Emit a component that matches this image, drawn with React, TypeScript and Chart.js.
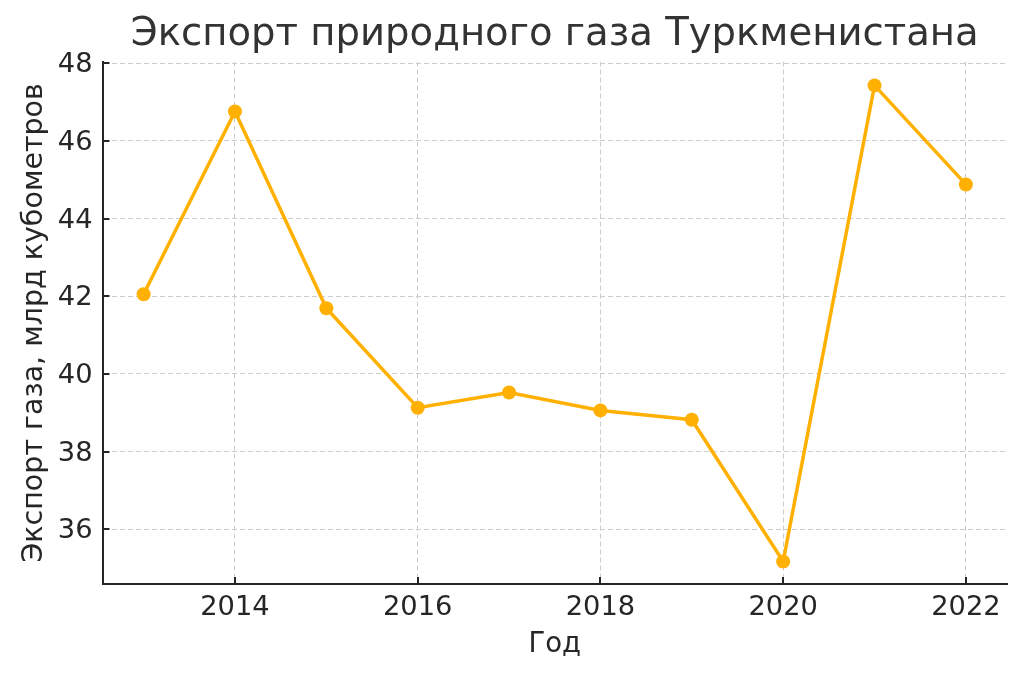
import React, { useEffect, useRef } from "react";
import { Chart, registerables } from "chart.js";

Chart.register(...registerables);

const years = [2013, 2014, 2015, 2016, 2017, 2018, 2019, 2020, 2021, 2022];
const exportBcm = [42.05, 46.76, 41.69, 39.13, 39.52, 39.06, 38.82, 35.17, 47.43, 44.88];
const xTickValues = [2014, 2016, 2018, 2020, 2022];
const yTickValues = [36, 38, 40, 42, 44, 46, 48];

const titleText = "Экспорт природного газа Туркменистана";
const xTitle = "Год";
const yTitle = "Экспорт газа, млрд кубометров";

const FONT = "'DejaVu Sans', sans-serif";
const LINE_COLOR = "#FFB000";
const AXIS_COLOR = "#262626";

const inwardTicks = {
  id: "inwardTicks",
  afterDraw(chart: any) {
    const { ctx, chartArea, scales } = chart;
    ctx.save();
    ctx.strokeStyle = AXIS_COLOR;
    ctx.lineWidth = 2;
    ctx.beginPath();
    for (const v of xTickValues) {
      const x = Math.round(scales.x.getPixelForValue(v));
      ctx.moveTo(x, chartArea.bottom);
      ctx.lineTo(x, chartArea.bottom - 7);
    }
    for (const v of yTickValues) {
      const y = Math.round(scales.y.getPixelForValue(v));
      ctx.moveTo(chartArea.left, y);
      ctx.lineTo(chartArea.left + 7, y);
    }
    ctx.stroke();
    ctx.restore();
  },
};

export default function App() {
  const ref = useRef<HTMLCanvasElement | null>(null);

  useEffect(() => {
    if (!ref.current) return;
    const chart = new Chart(ref.current, {
      type: "line",
      data: {
        datasets: [
          {
            data: years.map((y, i) => ({ x: y, y: exportBcm[i] })),
            borderColor: LINE_COLOR,
            backgroundColor: LINE_COLOR,
            borderWidth: 3.5,
            pointRadius: 7,
            pointHoverRadius: 7,
            pointBorderWidth: 0,
            pointBackgroundColor: LINE_COLOR,
            tension: 0,
            clip: false as any,
          },
        ],
      },
      options: {
        responsive: false,
        animation: false,
        events: [],
        layout: { padding: { left: 0, right: 17, top: 0, bottom: 0 } },
        plugins: {
          legend: { display: false },
          tooltip: { enabled: false },
          title: {
            display: true,
            text: titleText,
            fullSize: false,
            color: "#333333",
            font: { family: FONT, size: 38.6, weight: "normal" },
            padding: { top: 12.3, bottom: 3.1 },
          },
        },
        scales: {
          x: {
            type: "linear",
            min: 2012.55,
            max: 2022.45,
            afterFit: (s: any) => {
              s.height = 93;
            },
            afterBuildTicks: (s: any) => {
              s.ticks = xTickValues.map((v) => ({ value: v }));
            },
            ticks: {
              color: AXIS_COLOR,
              font: { family: FONT, size: 27.3 },
              padding: 8,
              maxRotation: 0,
              autoSkip: false,
              callback: (v: any) => String(v),
            },
            grid: {
              color: "#cccccc",
              lineWidth: 1,
              drawTicks: false,
            },
            border: { display: true, color: AXIS_COLOR, width: 2, dash: [5, 3] },
            title: {
              display: true,
              text: xTitle,
              color: AXIS_COLOR,
              font: { family: FONT, size: 27.5 },
              padding: { top: 0, bottom: 15.7 },
            },
          },
          y: {
            type: "linear",
            min: 34.59,
            max: 48.04,
            afterFit: (s: any) => {
              s.width = 102.5;
            },
            afterBuildTicks: (s: any) => {
              s.ticks = yTickValues.map((v) => ({ value: v }));
            },
            ticks: {
              color: AXIS_COLOR,
              font: { family: FONT, size: 27.3 },
              padding: 10,
              labelOffset: 2,
              autoSkip: false,
              callback: (v: any) => String(v),
            },
            grid: {
              color: "#cccccc",
              lineWidth: 1,
              drawTicks: false,
            },
            border: { display: true, color: AXIS_COLOR, width: 2, dash: [5, 3] },
            title: {
              display: true,
              text: yTitle,
              color: AXIS_COLOR,
              font: { family: FONT, size: 28.5 },
              padding: { top: 17, bottom: 0 },
            },
          },
        },
      },
      plugins: [inwardTicks],
    });
    return () => chart.destroy();
  }, []);

  return (
    <canvas
      ref={ref}
      width={1024}
      height={677}
      style={{ position: "fixed", left: 0, top: 0, display: "block", background: "#ffffff" }}
    />
  );
}
